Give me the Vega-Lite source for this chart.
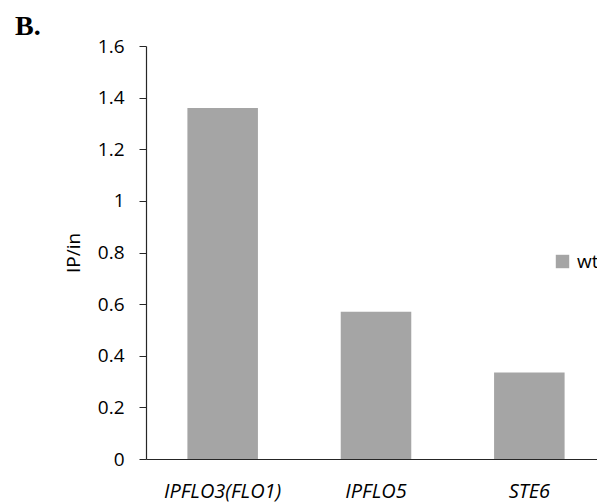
{
  "$schema": "https://vega.github.io/schema/vega-lite/v6.json",
  "width": 460,
  "height": 413,
  "autosize": {"type": "none"},
  "padding": {"left": 146, "top": 46, "right": 0, "bottom": 43},
  "background": "white",
  "title": {"text": "B.", "anchor": "start", "frame": "group", "dx": -131, "dy": 27, "offset": 1, "baseline": "alphabetic", "font": "Liberation Serif", "fontSize": 28, "fontWeight": "bold", "color": "black"},
  "data": {"values": [
    {"gene": "IPFLO3(FLO1)", "value": 1.36, "series": "wt"},
    {"gene": "IPFLO5", "value": 0.57, "series": "wt"},
    {"gene": "STE6", "value": 0.335, "series": "wt"}
  ]},
  "mark": {"type": "bar", "color": "#a5a5a5"},
  "encoding": {
    "x": {"field": "gene", "type": "nominal", "sort": null,
      "scale": {"paddingInner": 0.54, "paddingOuter": 0.27},
      "axis": {"title": null, "labelAngle": 0, "ticks": false, "labelPadding": 22, "labelFont": "Open Sans", "labelFontSize": 20, "labelFontStyle": "italic", "labelColor": "black", "domainColor": "#262626", "domainWidth": 1.2}},
    "y": {"field": "value", "type": "quantitative",
      "scale": {"domain": [0, 1.6], "nice": false},
      "axis": {"title": "IP/in", "titleFont": "Open Sans", "titleFontSize": 19, "titleFontWeight": "normal", "titleColor": "black", "titlePadding": 14, "values": [0, 0.2, 0.4, 0.6, 0.8, 1, 1.2, 1.4, 1.6], "format": "~g", "grid": false, "tickSize": 7, "tickColor": "#262626", "domainColor": "#262626", "domainWidth": 1.2, "labelPadding": 15, "labelFont": "Open Sans", "labelFontSize": 19, "labelColor": "black"}},
    "color": {"field": "series", "type": "nominal", "scale": {"range": ["#a5a5a5"]},
      "legend": {"title": null, "orient": "none", "legendX": 407, "legendY": 206, "symbolType": "square", "symbolSize": 180, "symbolStrokeWidth": 0, "labelFont": "Open Sans", "labelFontSize": 19, "labelColor": "black", "labelOffset": 5}}
  },
  "config": {"view": {"stroke": null}}
}
